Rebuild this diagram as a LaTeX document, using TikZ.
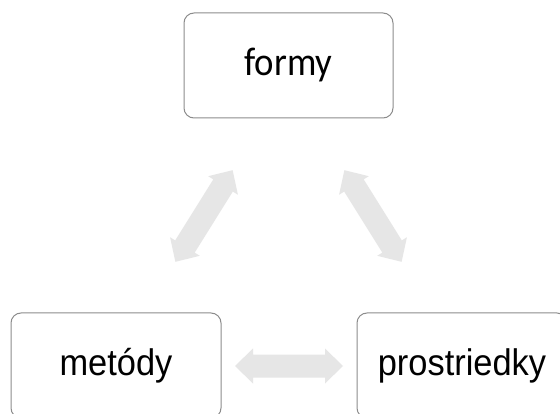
\documentclass[tikz,border=0pt]{standalone}
\usepackage{fontspec}
\setmainfont{Liberation Sans}
\newfontfamily\calibfont{Carlito}
\definecolor{boxline}{HTML}{8C8C8C}
\definecolor{arrowfill}{HTML}{E6E6E6}
\newcommand{\narrowtext}[1]{\scalebox{0.93}[1]{#1}}
\tikzset{
  box/.style={draw=boxline, line width=1pt, fill=white, rounded corners=10pt,
    minimum width=209pt, minimum height=105pt, inner sep=0pt,
    font=\fontsize{37}{42}\selectfont},
  dblarrow/.pic={
    \fill[arrowfill] (-54,0) -- (-36,17.5) -- (-36,11.5) -- (36,11.5) -- (36,17.5)
      -- (54,0) -- (36,-17.5) -- (36,-11.5) -- (-36,-11.5) -- (-36,-17.5) -- cycle;
  }
}
\begin{document}
\begin{tikzpicture}[x=1pt, y=-1pt]
\useasboundingbox (0,0) rectangle (560,414);
\clip (0,0) rectangle (560,414);
\fill[white] (0,0) rectangle (560,414);
\node[box] (formy) at (288.5,65.5) {\calibfont\fontsize{40}{44}\selectfont\scalebox{0.92}[1]{formy}};
\node[box, minimum width=210pt] (metody) at (116,365.5) {\narrowtext{metódy}};
\node[box, minimum width=210pt] (prostriedky) at (462,365.5) {\narrowtext{prostriedky}};
\pic[rotate=58] (arrL) at (204,216) {dblarrow};
\pic[rotate=-58] (arrR) at (373,216) {dblarrow};
\pic (arrB) at (289,366) {dblarrow};
\end{tikzpicture}
\end{document}
